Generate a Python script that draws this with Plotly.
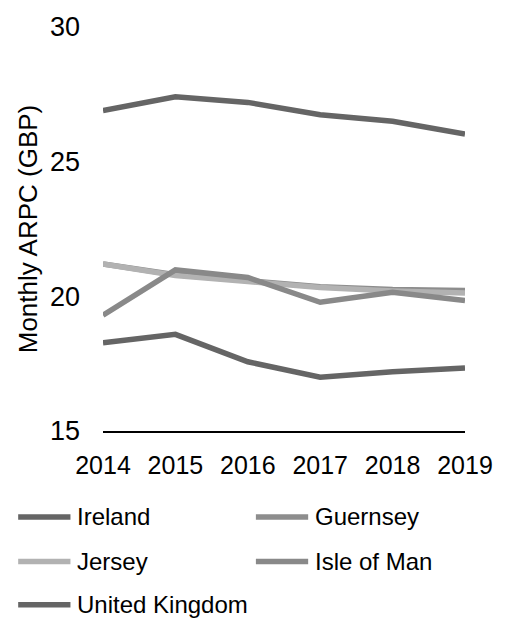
import plotly.graph_objects as go

years = [2014, 2015, 2016, 2017, 2018, 2019]
series_names = ["Ireland", "Guernsey", "Jersey", "Isle of Man", "United Kingdom"]
ireland = [18.28, 18.59, 17.57, 17.0, 17.2, 17.34]
guernsey = [21.2, 20.8, 20.58, 20.36, 20.25, 20.22]
jersey = [21.2, 20.77, 20.55, 20.33, 20.2, 20.12]
isle_of_man = [19.3, 20.98, 20.7, 19.78, 20.15, 19.84]
united_kingdom = [26.9, 27.41, 27.2, 26.74, 26.5, 26.03]
series_values = [ireland, guernsey, jersey, isle_of_man, united_kingdom]
colors = ["#656565", "#8d8d8d", "#b2b2b2", "#898989", "#656565"]
y_ticks = [15, 20, 25, 30]
x_ticks = years

W, H = 505, 624
L, R, T, B = 103, 35, 22, 193
PW, PH = W - L - R, H - T - B

def px_x(px):
    return (px - L) / PW

def px_y(py):
    return (H - B - py) / PH

fig = go.Figure()
for name, vals, col in zip(series_names, series_values, colors):
    fig.add_trace(go.Scatter(x=years, y=vals, mode="lines", name=name,
                             line=dict(color=col, width=5.5), showlegend=False))

# manual legend (two columns)
legend_pos = [(17, 518), (258, 518), (17, 563), (258, 563), (17, 607)]
shapes = []
annotations = []
for (lx, ly), name, col in zip(legend_pos, series_names, colors):
    shapes.append(dict(type="line", xref="paper", yref="paper",
                       x0=px_x(lx), x1=px_x(lx + 53), y0=px_y(ly), y1=px_y(ly),
                       line=dict(color=col, width=5.5)))
    annotations.append(dict(xref="paper", yref="paper", x=px_x(lx + 58), y=px_y(ly),
                            text=name, showarrow=False, xanchor="left", yanchor="middle",
                            font=dict(size=24, color="#000000")))

fig.update_layout(
    width=W, height=H,
    margin=dict(l=L, r=R, t=T, b=B),
    paper_bgcolor="white", plot_bgcolor="white",
    font=dict(family="Liberation Sans, Arial, sans-serif", color="#000000"),
    shapes=shapes, annotations=annotations,
    xaxis=dict(range=[2014, 2019], tickvals=x_ticks, ticktext=[str(v) for v in x_ticks],
               showgrid=False, zeroline=False, showline=True, linecolor="#000000",
               linewidth=1.5, ticks="", tickfont=dict(size=25), ticklabelstandoff=11),
    yaxis=dict(range=[15, 30], tickvals=y_ticks, showgrid=False, zeroline=False,
               showline=False, ticks="", tickfont=dict(size=27), ticklabelstandoff=22,
               title=dict(text="Monthly ARPC (GBP)", font=dict(size=26), standoff=4)),
)

fig.write_html("out.html")
